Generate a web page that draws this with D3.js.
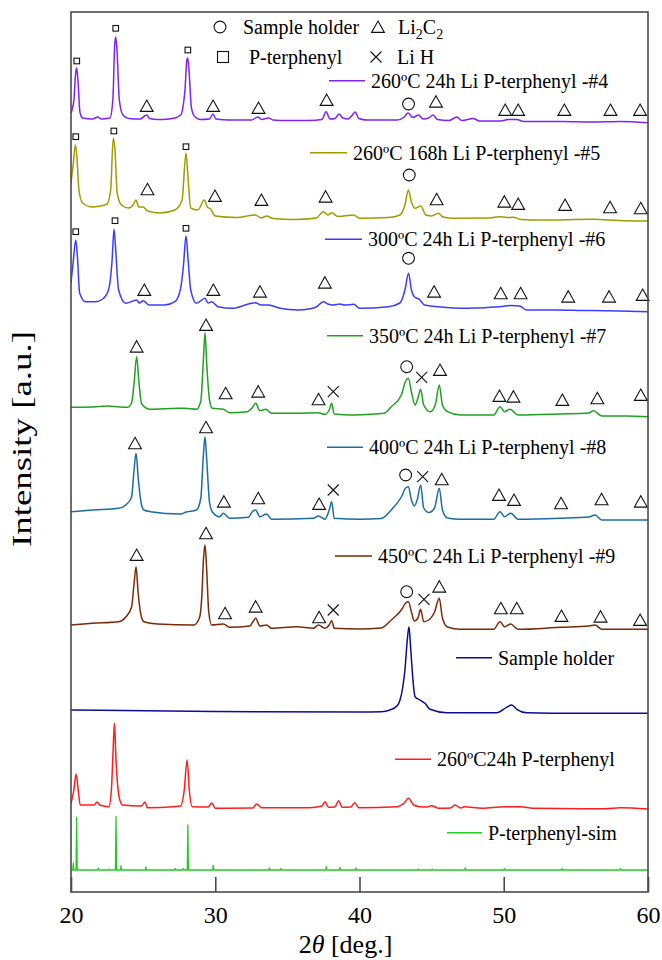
<!DOCTYPE html>
<html>
<head>
<meta charset="utf-8">
<script src="https://cdn.jsdelivr.net/npm/d3@7"></script>
<style>
  body { margin: 0; background: #fff; }
  svg { display: block; }
  svg text { font-family: "Liberation Serif", "DejaVu Serif", "Times New Roman", Times, serif; }
</style>
</head>
<body>
<div id="chart"></div>
<script>
// x axis ticks (2theta, deg.)
const xTicks = [20, 30, 40, 50, 60];

// patterns: [2theta, intensity a.u.], stacked offsets included
const run4 = [[20.0,779],[20.2,792],[20.33,820],[20.39,824],[20.48,812],[20.62,780],[20.8,774],[21.5,773],[21.85,775],[22.1,773],[22.7,774],[22.9,792],[23.03,847],[23.1,855],[23.18,844],[23.35,792],[23.6,777],[24.0,773.5],[24.8,773],[25.1,776],[25.25,777],[25.45,773.5],[26.0,772.5],[26.8,773],[27.2,774],[27.6,777],[27.9,802],[28.03,832],[28.09,834],[28.18,822],[28.35,784],[28.6,775],[29.0,772.5],[29.6,773],[29.84,778],[30.05,773],[31.0,772],[32.5,772],[32.96,775],[33.2,772.5],[33.7,774],[34.0,772],[35.0,771.5],[36.5,771.5],[37.4,772.5],[37.68,780.3],[37.95,773],[38.3,773.5],[38.58,778],[38.85,774],[39.2,773],[39.45,776],[39.7,780],[39.95,773.5],[40.5,772],[42.6,772],[43.1,775],[43.37,779],[43.7,774.5],[44.1,777],[44.4,773],[44.8,774],[45.1,777],[45.4,772.5],[46.2,771.5],[46.75,775],[47.1,771.5],[47.9,773.5],[48.3,771],[49.8,771],[50.3,772.5],[50.9,772.5],[51.4,770.5],[54.1,770.5],[56.0,770],[58.06,770.5],[60.0,769.3]];

const run5 = [[20.0,709],[20.15,727],[20.3,747],[20.4,737],[20.55,702],[20.8,689],[21.5,685],[22.0,686],[22.5,688],[22.75,702],[22.93,754],[23.05,742],[23.2,699],[23.5,687],[24.0,684],[24.3,687],[24.5,692],[24.7,685],[25.0,685],[25.3,681],[26.2,679],[27.2,682],[27.7,692],[27.97,739],[28.1,717],[28.3,684],[28.8,682],[29.24,692],[29.45,685],[29.68,683],[30.0,676],[31.5,674.5],[32.76,677],[33.2,674],[33.57,676],[34.0,673.5],[35.5,672.5],[37.0,674],[37.5,680.3],[37.8,677],[38.07,679.3],[38.5,675.5],[39.6,677],[40.0,673.7],[42.0,674.5],[42.8,677],[43.15,687],[43.39,702],[43.6,690],[43.85,683.7],[44.24,686],[44.6,677],[45.0,676],[45.46,678.7],[45.8,675],[46.5,673.7],[49.0,674],[49.74,675.3],[50.2,674.5],[50.67,674.7],[51.2,672.5],[52.5,672],[56.2,672.7],[58.0,671.5],[60.0,671]];

const run6 = [[20.0,609],[20.15,630],[20.33,652],[20.45,634],[20.6,599],[21.0,590.3],[21.7,590.3],[22.2,593],[22.6,602],[22.85,632],[22.98,662.7],[23.1,642],[23.3,602],[23.8,588.7],[24.55,592],[24.75,589],[25.0,591.3],[25.4,587],[26.5,587],[27.2,590.3],[27.6,603.7],[27.8,627],[27.97,656],[28.12,632],[28.3,602],[28.7,588.7],[29.29,593.7],[29.5,589],[29.75,590.3],[30.2,585.3],[31.2,583.7],[32.3,588],[32.76,589.3],[33.2,587],[33.68,587],[34.5,583.7],[35.7,582],[36.5,583],[37.0,585],[37.5,590.3],[37.8,588],[38.2,587],[38.6,588],[39.0,587],[39.6,587.7],[40.0,583.7],[42.0,585.3],[42.8,589],[43.15,602],[43.4,618.7],[43.6,602],[43.8,595.3],[44.15,592.7],[44.5,587],[45.5,585.3],[47.4,583.7],[48.0,584],[49.7,585.3],[50.5,586.5],[51.1,586],[51.6,582],[53.6,582],[55.5,581.5],[58.0,581],[60.0,580.3]];

const run7 = [[20.0,484.7],[21.5,485],[22.5,486],[23.9,484.7],[24.2,489],[24.38,510],[24.55,535.3],[24.72,508],[24.9,488],[25.5,482.7],[27.4,483.7],[27.9,483.7],[28.7,482.7],[29.0,491],[29.17,530],[29.29,559.3],[29.41,528],[29.6,492],[29.8,483.7],[30.56,482.7],[31.0,479.3],[32.2,480.3],[32.55,484],[32.8,488.7],[33.1,481.3],[33.5,482.7],[33.9,478.7],[35.76,478.7],[37.14,479.3],[37.6,477.7],[37.9,482],[38.07,488.7],[38.25,478],[39.5,477],[40.5,477.5],[41.7,478.7],[42.2,485.3],[42.9,497],[43.2,511],[43.39,513.7],[43.6,500],[43.85,487],[44.05,494],[44.24,502.7],[44.45,487],[44.9,480.3],[45.25,487],[45.53,507],[45.75,487],[46.1,480.3],[47.0,477],[49.3,477],[49.74,485.3],[50.05,480.3],[50.43,482.7],[51.0,477],[53.9,478],[55.9,479],[56.21,481.3],[56.8,476],[58.5,476],[60.0,475.3]];

const run8 = [[20.0,380.3],[21.5,382],[23.3,383.7],[23.8,387],[24.2,395],[24.36,420],[24.51,438.7],[24.66,414],[24.85,390],[25.05,382],[25.5,380.3],[27.6,378],[28.0,380],[28.7,382],[29.0,394],[29.17,435],[29.29,455.3],[29.41,432],[29.6,390],[29.8,380],[30.3,375.3],[30.56,378.7],[31.0,373.7],[32.3,374.7],[32.55,380],[32.8,382],[33.1,375.3],[33.56,378],[33.9,372.7],[36.8,373.7],[37.16,376],[37.6,372.7],[37.9,382],[38.07,390.3],[38.25,373.7],[40.0,372.7],[41.5,373.5],[42.2,382],[42.9,395],[43.2,404],[43.39,405.3],[43.6,392],[43.8,386],[44.0,392],[44.24,407],[44.45,384],[44.8,379.5],[45.2,384],[45.53,403.7],[45.75,382],[46.1,374],[47.0,372.7],[49.3,372.7],[49.74,380.3],[50.05,375.3],[50.48,378.7],[51.0,372.7],[53.9,373.7],[55.9,375],[56.33,377],[56.8,372],[60.0,372]];

const run9 = [[20.0,267],[21.5,268.7],[23.3,270.3],[23.8,275],[24.2,285],[24.37,308],[24.51,325.3],[24.65,300],[24.85,277],[25.05,270.3],[26.0,268],[28.5,267],[28.9,274],[29.07,296],[29.18,332],[29.29,347],[29.4,324],[29.55,280],[29.75,267],[30.56,268],[31.0,264.7],[32.4,266],[32.6,270],[32.8,273.7],[33.1,266],[33.56,267],[33.9,263.7],[35.65,265.3],[36.8,263.7],[37.16,267],[37.6,263.7],[37.9,267],[38.07,271.3],[38.25,263.7],[40.0,263],[41.5,264],[42.2,272],[42.9,282],[43.2,289],[43.39,290.3],[43.6,280],[43.8,271],[44.05,274],[44.24,282.7],[44.45,270.3],[44.8,272],[45.2,280],[45.53,293.7],[45.75,274],[46.1,265],[47.0,262.7],[49.3,262.7],[49.74,270.3],[50.05,265.3],[50.48,268],[51.0,262.7],[53.9,264.7],[55.9,266],[56.33,267],[56.8,262.7],[60.0,262.7]];

const holder = [[20.0,182],[30.0,180.5],[40.0,180],[41.5,180.3],[42.11,182],[42.6,186],[42.81,192],[43.0,205],[43.15,222],[43.3,250],[43.43,265.3],[43.52,250],[43.62,228.7],[43.75,205],[43.85,195.3],[44.19,192],[44.54,188.7],[44.89,182.7],[46.05,179.3],[49.51,179.3],[50.2,184.7],[50.55,187],[50.9,182.7],[51.59,179.3],[55.0,178.7],[60.0,178.7]];

const terph = [[20.0,88.7],[20.2,102],[20.35,118],[20.5,102],[20.64,87],[21.6,87],[21.81,90],[22.0,87],[22.63,85.3],[22.8,102],[22.92,142],[23.01,168.7],[23.12,132],[23.33,95.3],[23.57,87],[24.9,86],[25.12,90],[25.3,84.3],[27.08,85.3],[27.6,86],[27.85,102],[28.05,132],[28.2,102],[28.4,85.3],[29.5,85],[29.77,89],[30.0,83.7],[32.6,84],[32.87,88],[33.2,84.3],[36.5,84.3],[37.4,86],[37.61,90.3],[37.85,84.7],[38.3,85],[38.55,91.3],[38.8,84.7],[39.4,85],[39.66,89.3],[39.95,84.3],[42.6,85.3],[43.1,89],[43.4,93.7],[43.75,87],[44.2,85.3],[44.7,85],[44.99,86.3],[45.5,83.7],[46.3,84],[46.62,87],[47.0,84],[47.27,85.3],[48.5,83.7],[50.05,85.3],[51.2,85.3],[52.0,83.7],[57.0,83.3],[58.09,84.3],[60.0,83]];

const terphSim = [[20.0,22],[20.12,22],[20.16,29],[20.2,22],[20.35,22],[20.39,74.7],[20.43,22],[21.86,22],[21.9,24],[21.94,22],[22.61,22],[22.65,23],[22.69,22],[23.08,22],[23.12,75.3],[23.16,22],[23.43,22],[23.47,26],[23.51,22],[25.16,22],[25.2,25],[25.24,22],[27.2,22],[27.24,23.5],[27.28,22],[27.76,22],[27.8,23.5],[27.84,22],[28.06,22],[28.1,67],[28.14,22],[29.82,22],[29.86,26.7],[29.9,22],[33.71,22],[33.75,24],[33.79,22],[34.51,22],[34.55,23.5],[34.59,22],[37.66,22],[37.7,25.3],[37.74,22],[38.6,22],[38.64,24.7],[38.68,22],[39.71,22],[39.75,24],[39.79,22],[44.06,22],[44.1,23],[44.14,22],[45.0,22],[45.04,23],[45.08,22],[47.29,22],[47.33,24],[47.37,22],[50.01,22],[50.05,23.5],[50.09,22],[54.02,22],[54.06,23.5],[54.1,22],[58.06,22],[58.1,23.5],[58.14,22],[60.0,22]];

const seriesLabels = [
  "260ºC 24h Li P-terphenyl -#4",
  "260ºC 168h Li P-terphenyl -#5",
  "300ºC 24h Li P-terphenyl -#6",
  "350ºC 24h Li P-terphenyl -#7",
  "400ºC 24h Li P-terphenyl -#8",
  "450ºC 24h Li P-terphenyl -#9",
  "Sample holder",
  "260ºC24h P-terphenyl",
  "P-terphenyl-sim"
];
const seriesData = [run4, run5, run6, run7, run8, run9, holder, terph, terphSim];

// phase marks: [2theta, intensity a.u., phase]  sq = P-terphenyl, tri = Li2C2, circ = holder, x = LiH
const marks4 = [[20.4,831,"sq"],[23.1,863.7,"sq"],[28.1,842,"sq"],[25.25,786,"tri"],[29.85,786,"tri"],[33.0,784,"tri"],[37.72,792,"tri"],[43.4,788,"circ"],[45.3,790.3,"tri"],[50.1,782,"tri"],[51.0,782,"tri"],[54.2,782,"tri"],[57.4,782,"tri"],[59.45,782,"tri"]];
const marks5 = [[20.33,755.3,"sq"],[22.97,761,"sq"],[27.97,745.3,"sq"],[25.3,702.7,"tri"],[29.98,696,"tri"],[33.2,692,"tri"],[37.65,695.3,"tri"],[43.45,717,"circ"],[45.35,692.7,"tri"],[50.04,690.3,"tri"],[51.0,688,"tri"],[54.25,687,"tri"],[57.37,684.7,"tri"],[59.5,683.7,"tri"]];
const marks6 = [[20.33,660.3,"sq"],[23.05,671.3,"sq"],[27.97,663.7,"sq"],[25.08,602,"tri"],[29.87,602,"tri"],[33.1,600.3,"tri"],[37.6,609.3,"tri"],[43.4,633.7,"circ"],[45.17,600.3,"tri"],[49.79,598.7,"tri"],[51.17,598.7,"tri"],[54.47,595.3,"tri"],[57.3,595.3,"tri"],[59.63,597,"tri"]];
const marks7 = [[24.55,545.3,"tri"],[29.36,567,"tri"],[30.72,498.7,"tri"],[32.98,500.3,"tri"],[37.16,492.7,"tri"],[38.18,500.3,"x"],[43.27,525.3,"circ"],[44.31,514.7,"x"],[45.58,522,"tri"],[49.7,496,"tri"],[50.67,495.3,"tri"],[54.06,492,"tri"],[56.49,493.7,"tri"],[59.5,497,"tri"]];
const marks8 = [[24.44,448.7,"tri"],[29.36,464.7,"tri"],[30.6,390.3,"tri"],[32.98,393.7,"tri"],[37.2,388,"tri"],[38.18,402,"x"],[43.2,417,"circ"],[44.38,415.3,"x"],[45.7,412.7,"tri"],[49.67,397,"tri"],[50.71,392,"tri"],[53.97,388.7,"tri"],[56.78,392.7,"tri"],[59.5,390.3,"tri"]];
const marks9 = [[24.55,337,"tri"],[29.36,358.7,"tri"],[30.68,278.7,"tri"],[32.8,285.3,"tri"],[37.2,274.7,"tri"],[38.18,282,"x"],[43.27,300.3,"circ"],[44.47,292.7,"x"],[45.53,305.3,"tri"],[49.8,283.7,"tri"],[50.9,283.7,"tri"],[54.0,276,"tri"],[56.71,275.3,"tri"],[59.45,272,"tri"]];
const allMarks = [].concat(marks4, marks5, marks6, marks7, marks8, marks9);

// phase key
const keyItems = [["circ", "Sample holder"], ["tri", "Li2C2"], ["sq", "P-terphenyl"], ["x", "Li H"]];

// ---- styling / layout ----
const serif = "'Liberation Serif', 'DejaVu Serif', 'Times New Roman', serif";
const colors = ["#7f22f5", "#a09c00", "#3c3cff", "#22a022", "#1c6ca4", "#7a2a08", "#0c0c96", "#ff1c1c", "#22cc22"];
// legend sample line: [x1, x2, y] in px
const legendPos = [[329,365,80.7],[310,347,152.7],[325,362,239.3],[327,363,335.7],[327,363,447.3],[335,372,556],[456,492,657.7],[395,431,759.3],[447,482,832.7]];
const keyPos = [[220,27,243],[378,27,398],[223,57,249],[376,57,397]];

const W = 662, H = 960;
const margin = {top: 12, right: 14, bottom: 68, left: 71};
const iw = W - margin.left - margin.right;
const ih = H - margin.top - margin.bottom;

const svg = d3.select("#chart").append("svg")
  .attr("width", W)
  .attr("height", H)
  .attr("font-family", serif);

const g = svg.append("g")
  .attr("transform", `translate(${margin.left},${margin.top})`);

const x = d3.scaleLinear().domain([20, 60]).range([0, iw]);
const y = d3.scaleLinear().domain([0, 880]).range([ih, 0]);

const smooth = d3.line()
  .x(d => x(d[0]))
  .y(d => y(d[1]))
  .curve(d3.curveMonotoneX);
const sharp = d3.line()
  .x(d => x(d[0]))
  .y(d => y(d[1]));

g.append("defs").append("clipPath").attr("id", "clip")
  .append("rect").attr("width", iw).attr("height", ih);

g.append("g").attr("clip-path", "url(#clip)")
  .selectAll("path")
  .data(seriesData)
  .join("path")
    .attr("fill", "none")
    .attr("stroke", (d, i) => colors[i])
    .attr("stroke-width", (d, i) => i == 8 ? 1.3 : 1.5)
    .attr("stroke-linejoin", "round")
    .attr("d", (d, i) => i == 8 ? sharp(d) : smooth(d));

// marker glyphs
function glyph(sel, kind, big) {
  if (kind == "tri") {
    sel.append("path").attr("d", "M0,-6L6.4,5.4L-6.4,5.4Z");
  } else if (kind == "circ") {
    sel.append("circle").attr("r", 5.9);
  } else if (kind == "x") {
    sel.append("path").attr("d", "M-5.5,-5.5L5.5,5.5M5.5,-5.5L-5.5,5.5");
  } else {
    const a = big ? 11 : 5.6;
    sel.append("rect").attr("x", -a / 2).attr("y", -a / 2).attr("width", a).attr("height", a);
  }
  sel.attr("fill", "none").attr("stroke", "#111").attr("stroke-width", 1.1);
}

g.append("g").selectAll("g")
  .data(allMarks)
  .join("g")
    .attr("transform", d => `translate(${x(d[0])},${y(d[1])})`)
    .each(function(d) { glyph(d3.select(this), d[2], false); });

// series legend
const leg = svg.append("g");
seriesLabels.forEach((lab, i) => {
  const p = legendPos[i];
  leg.append("line")
    .attr("x1", p[0]).attr("x2", p[1]).attr("y1", p[2]).attr("y2", p[2])
    .attr("stroke", colors[i]).attr("stroke-width", 1.5);
  leg.append("text")
    .attr("x", p[1] + 6).attr("y", p[2]).attr("dy", "0.34em")
    .attr("font-family", serif)
    .attr("font-size", 20)
    .text(lab);
});

// phase key
keyItems.forEach((k, i) => {
  const p = keyPos[i];
  const gg = svg.append("g").attr("transform", `translate(${p[0]},${p[1]})`);
  glyph(gg, k[0], true);
  const t = svg.append("text").attr("x", p[2]).attr("y", p[1]).attr("dy", "0.34em")
    .attr("font-family", serif)
    .attr("font-size", 20);
  if (k[1] == "Li2C2") {
    t.append("tspan").text("Li");
    t.append("tspan").attr("font-size", 14).attr("dy", 5).text("2");
    t.append("tspan").attr("dy", -5).text("C");
    t.append("tspan").attr("font-size", 14).attr("dy", 5).text("2");
  } else {
    t.text(k[1]);
  }
});

// axis
const xAxis = g.append("g")
  .attr("transform", `translate(0,${ih})`)
  .call(d3.axisBottom(x).tickValues(xTicks).tickSize(-15).tickSizeOuter(0).tickPadding(14))
  .attr("font-family", serif);
xAxis.select(".domain").remove();
xAxis.selectAll(".tick line").attr("stroke", "#4a4a4a").attr("stroke-width", 1.6);
xAxis.selectAll(".tick text")
  .attr("font-family", serif)
  .attr("font-size", 24)
  .attr("fill", "#000");

g.append("rect")
  .attr("width", iw).attr("height", ih)
  .attr("fill", "none")
  .attr("stroke", "#4a4a4a")
  .attr("stroke-width", 1.6);

// axis titles
const xt = svg.append("text")
  .attr("x", margin.left + iw / 2 - 14).attr("y", 953)
  .attr("text-anchor", "middle")
  .attr("font-family", serif)
  .attr("font-size", 26);
xt.append("tspan").text("2");
xt.append("tspan").attr("font-style", "italic").text("θ");
xt.append("tspan").text(" [deg.]");

svg.append("text")
  .attr("transform", "translate(31,439) rotate(-90)")
  .attr("text-anchor", "middle")
  .attr("font-family", serif)
  .attr("font-size", 27)
  .attr("textLength", 216)
  .attr("lengthAdjust", "spacingAndGlyphs")
  .text("Intensity [a.u.]");
</script>
</body>
</html>
